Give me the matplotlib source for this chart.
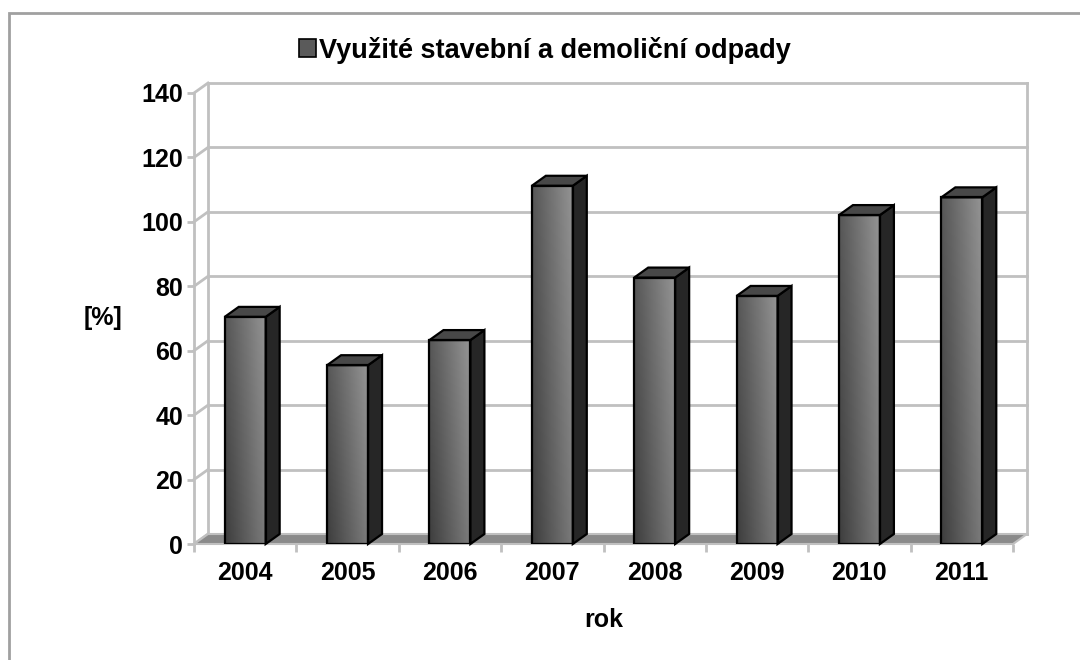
import matplotlib.pyplot as plt
import numpy as np
from matplotlib.patches import Polygon, Rectangle

# data
years = ['2004', '2005', '2006', '2007', '2008', '2009', '2010', '2011']
values = [70.5, 55.5, 63.3, 111.2, 82.7, 77.0, 102.1, 107.6]
y_ticks = [0, 20, 40, 60, 80, 100, 120, 140]
series_name = 'Využité stavební a demoliční odpady'

plt.rcParams['font.family'] = ['Liberation Sans', 'DejaVu Sans']
plt.rcParams['font.weight'] = 'bold'

W, H = 1080, 660
fig = plt.figure(figsize=(W / 100, H / 100), dpi=100)

# front plane of the 3d box in pixels
L, R, T, B = 194, 1013, 93, 544
ax = fig.add_axes([L / W, 1 - B / H, (R - L) / W, (B - T) / H])
ax.patch.set_visible(False)

n = len(years)
x = np.arange(n)
ymax = y_ticks[-1]
ax.set_xlim(-0.5, n - 0.5)
ax.set_ylim(0, ymax)

# depth offset of the 3d effect (pixels -> data units)
DX_PX, DY_PX = 14, 10
dx = DX_PX * n / (R - L)
dy = DY_PX * ymax / (B - T)

grid_c = '#c0c0c0'
x0, x1 = -0.5, n - 0.5

# back wall gridlines and edges
for t in y_ticks:
    ax.plot([x0 + dx, x1 + dx], [t + dy, t + dy], color=grid_c, lw=2, clip_on=False, zorder=0)
    ax.plot([x0, x0 + dx], [t, t + dy], color=grid_c, lw=2, clip_on=False, zorder=0)
ax.plot([x0 + dx, x0 + dx], [dy, ymax + dy], color=grid_c, lw=2, clip_on=False, zorder=0)
ax.plot([x1 + dx, x1 + dx], [dy, ymax + dy], color=grid_c, lw=2, clip_on=False, zorder=0)

# floor
floor = Polygon([[x0, 0], [x1, 0], [x1 + dx, dy], [x0 + dx, dy]], closed=True,
                facecolor='#8a8a8a', edgecolor=grid_c, lw=1.5, clip_on=False, zorder=1)
ax.add_patch(floor)

# bars
w = 0.4
bars = ax.bar(x, values, width=w, facecolor='none', edgecolor='black', lw=1.6, zorder=5)
uu, vv = np.meshgrid(np.linspace(0, 1, 60), np.linspace(1, 0, 200))
grad = 0.24 + 0.24 * uu + 0.10 * vv
side_grad = 0.10 + 0.10 * uu[:, :20]
for xi, v, p in zip(x, values, bars.patches):
    im = ax.imshow(grad, extent=(xi - w / 2, xi + w / 2, 0, v), cmap='gray', vmin=0, vmax=1,
                   aspect='auto', interpolation='bilinear', zorder=4)
    im.set_clip_path(p)
    side = Polygon([[xi + w / 2, 0], [xi + w / 2 + dx, dy], [xi + w / 2 + dx, v + dy], [xi + w / 2, v]],
                   closed=True, facecolor='#262626', edgecolor='black', lw=1.6, zorder=4, clip_on=False)
    top = Polygon([[xi - w / 2, v], [xi + w / 2, v], [xi + w / 2 + dx, v + dy], [xi - w / 2 + dx, v + dy]],
                  closed=True, facecolor='#484848', edgecolor='black', lw=1.6, zorder=4, clip_on=False)
    ax.add_patch(side)
    ax.add_patch(top)

# axes and ticks
for s in ['top', 'right', 'bottom']:
    ax.spines[s].set_visible(False)
ax.spines['left'].set_color(grid_c)
ax.spines['left'].set_linewidth(2)
ax.set_yticks(y_ticks)
ax.tick_params(axis='y', length=5, width=2, color=grid_c, labelsize=18, pad=3)
ax.set_xticks(x, years)
ax.set_xticks(np.arange(n + 1) - 0.5, minor=True)
ax.tick_params(axis='x', which='major', length=0, labelsize=18, pad=12)
ax.tick_params(axis='x', which='minor', length=6, width=2, color=grid_c)

ax.set_xlabel('rok', fontsize=18, fontweight='bold', va='center')
ax.xaxis.set_label_coords(0.5, -(620 - B) / (B - T))
ax.set_ylabel('[%]', fontsize=18, fontweight='bold', rotation=0, va='center', ha='center')
ax.yaxis.set_label_coords(-(L - 103) / (R - L), 0.5)

# legend
handle = Rectangle((0, 0), 1, 1, facecolor='#5a5a5a', edgecolor='black', lw=1.2)
fig.legend([handle], [series_name], loc='center', bbox_to_anchor=(545 / W, 1 - 50 / H),
           frameon=False, fontsize=19.5, handlelength=0.6, handleheight=0.6, handletextpad=0.12)

# outer chart border
fig.patches.append(Rectangle((9 / W, -0.1), 1.2, 1.1 - 13 / H, transform=fig.transFigure,
                             fill=False, edgecolor='#a0a0a0', lw=2))

fig.savefig('out.png', dpi=100)
